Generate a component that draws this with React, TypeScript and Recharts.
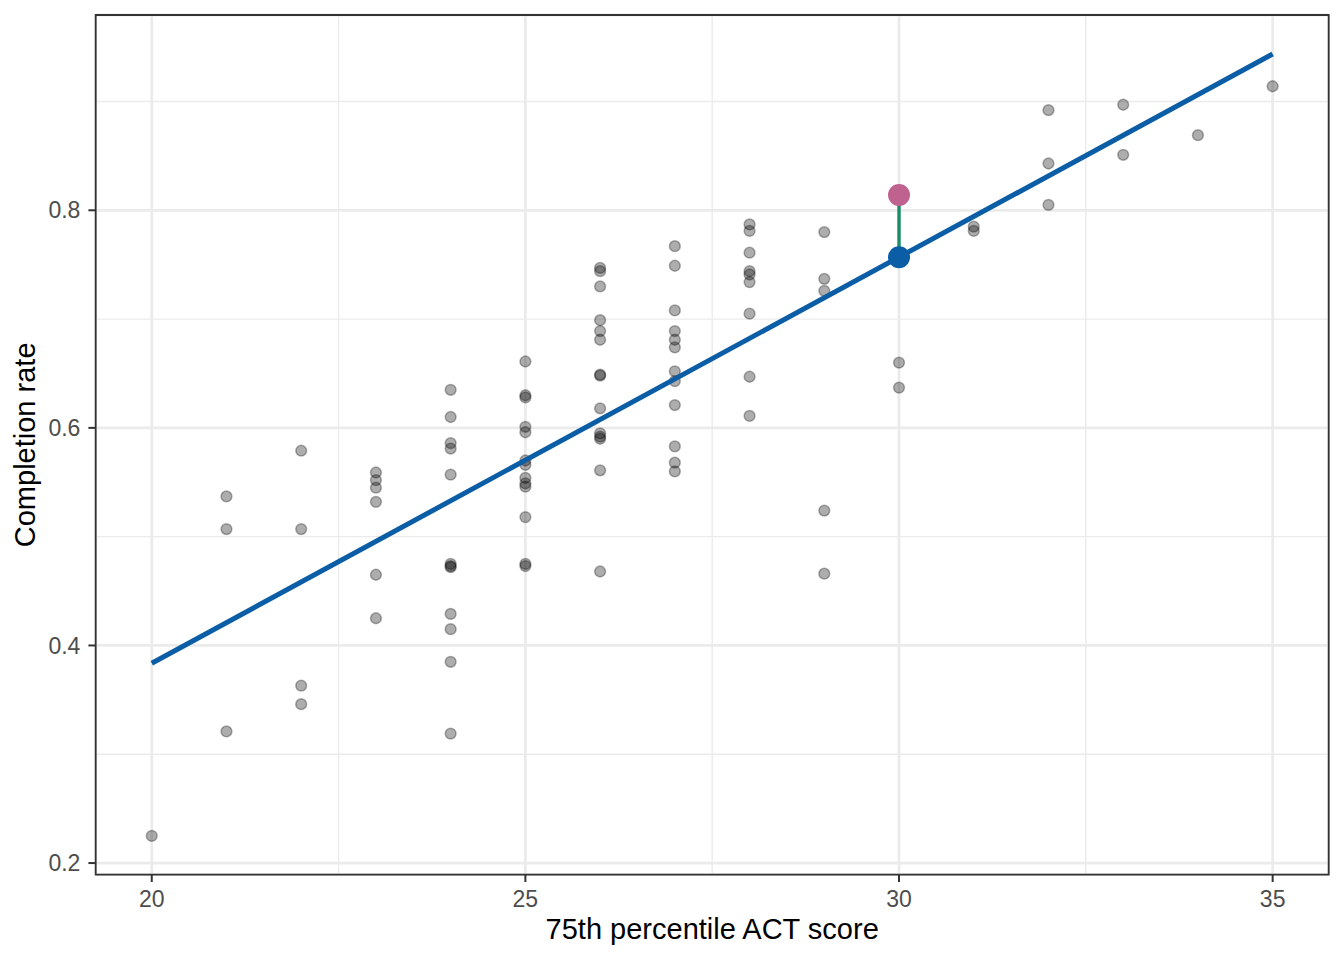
import { ComposedChart, Scatter, XAxis, YAxis, CartesianGrid, ReferenceArea } from 'recharts'

// one entry per college: 75th percentile ACT score and completion rate
const actScore = [
  20,
  21, 21, 21,
  22, 22, 22, 22,
  23, 23, 23, 23, 23, 23,
  24, 24, 24, 24, 24, 24, 24, 24, 24, 24, 24, 24,
  25, 25, 25, 25, 25, 25, 25, 25, 25, 25, 25, 25, 25,
  26, 26, 26, 26, 26, 26, 26, 26, 26, 26, 26, 26, 26, 26,
  27, 27, 27, 27, 27, 27, 27, 27, 27, 27, 27, 27,
  28, 28, 28, 28, 28, 28, 28, 28, 28,
  29, 29, 29, 29, 29,
  30, 30,
  31, 31,
  32, 32, 32,
  33, 33,
  34,
  35,
]

const completionRate = [
  0.225,
  0.537, 0.507, 0.321,
  0.579, 0.507, 0.363, 0.346,
  0.559, 0.552, 0.545, 0.532, 0.465, 0.425,
  0.635, 0.61, 0.586, 0.581, 0.557, 0.475, 0.473, 0.472, 0.429, 0.415, 0.385, 0.319,
  0.661, 0.63, 0.628, 0.601, 0.596, 0.57, 0.566, 0.554, 0.549, 0.546, 0.518, 0.475, 0.473,
  0.747, 0.744, 0.73, 0.699, 0.689, 0.681, 0.649, 0.648, 0.618, 0.595, 0.592, 0.59, 0.561, 0.468,
  0.767, 0.749, 0.708, 0.689, 0.681, 0.674, 0.652, 0.643, 0.621, 0.583, 0.568, 0.56,
  0.787, 0.781, 0.761, 0.744, 0.741, 0.734, 0.705, 0.647, 0.611,
  0.78, 0.737, 0.726, 0.524, 0.466,
  0.66, 0.637,
  0.785, 0.781,
  0.892, 0.843, 0.805,
  0.897, 0.851,
  0.869,
  0.914,
]

// fitted regression line end points
const fitScore = [20, 35]
const fitRate = [0.3837, 0.9436]

// highlighted college and its fitted value
const highlightScore = 30
const observedRate = 0.8141
const fittedRate = 0.7568

const xTicks = [20, 25, 30, 35]
const xMinorTicks = [22.5, 27.5, 32.5]
const yTicks = [0.2, 0.4, 0.6, 0.8]
const yMinorTicks = [0.3, 0.5, 0.7, 0.9]

const X_DOMAIN: [number, number] = [19.25, 35.75]
const Y_DOMAIN: [number, number] = [0.1893, 0.9795]

const BLUE = '#0B5EA5'
const PINK = '#C0628F'
const GREEN = '#1A8C66'
const FONT = '"Liberation Sans", Arial, Helvetica, sans-serif'

const points = actScore.map((x, i) => ({ x, y: completionRate[i] }))
const fitData = fitScore.map((x, i) => ({ x, y: fitRate[i] }))
const residualData = [
  { x: highlightScore, y: fittedRate },
  { x: highlightScore, y: observedRate },
]

const GrayDot = (p: any) => (
  <circle
    cx={p.cx}
    cy={p.cy}
    r={5.4}
    fill="#000"
    fillOpacity={0.32}
    stroke="#000"
    strokeOpacity={0.3}
    strokeWidth={1.5}
  />
)

const bigDot = (color: string) => (p: any) => <circle cx={p.cx} cy={p.cy} r={11} fill={color} />

const NoDot = () => <g />

export default function App() {
  return (
    <div style={{ position: 'absolute', left: 0, top: 0, width: 1344, height: 960, background: '#fff', fontFamily: FONT }}>
      <ComposedChart width={1344} height={960} margin={{ top: 15, right: 15.3, bottom: 0, left: 0 }}>
        <XAxis
          xAxisId="minor"
          dataKey="x"
          type="number"
          domain={X_DOMAIN}
          ticks={xMinorTicks}
          allowDataOverflow
          hide
        />
        <YAxis
          yAxisId="minor"
          dataKey="y"
          type="number"
          domain={Y_DOMAIN}
          ticks={yMinorTicks}
          allowDataOverflow
          hide
        />
        <CartesianGrid xAxisId="minor" yAxisId="minor" stroke="#EBEBEB" strokeWidth={1.4} />
        <CartesianGrid stroke="#EBEBEB" strokeWidth={2.8} />
        <XAxis
          dataKey="x"
          type="number"
          domain={X_DOMAIN}
          ticks={xTicks}
          allowDataOverflow
          height={85.3}
          axisLine={false}
          tickSize={7.3}
          tickMargin={8.4}
          tickLine={{ stroke: '#333', strokeWidth: 2 }}
          tick={{ fill: '#4D4D4D', fontSize: 23, fontFamily: FONT }}
          label={{
            value: '75th percentile ACT score',
            position: 'insideBottom',
            offset: 20.7,
            fill: '#000',
            fontSize: 29,
            fontFamily: FONT,
          }}
        />
        <YAxis
          dataKey="y"
          type="number"
          domain={Y_DOMAIN}
          ticks={yTicks}
          allowDataOverflow
          width={95.7}
          axisLine={false}
          tickSize={7.3}
          tickMargin={8}
          tickLine={{ stroke: '#333', strokeWidth: 2 }}
          tickFormatter={(v: number) => v.toFixed(1)}
          tick={{ fill: '#4D4D4D', fontSize: 23, fontFamily: FONT }}
          label={{
            value: 'Completion rate',
            angle: -90,
            position: 'insideLeft',
            offset: 24.5,
            fill: '#000',
            fontSize: 29,
            fontFamily: FONT,
            style: { textAnchor: 'middle' },
          }}
        />
        <Scatter data={points} dataKey="y" shape={GrayDot} isAnimationActive={false} />
        <Scatter
          data={fitData}
          dataKey="y"
          fill={BLUE}
          line={{ stroke: BLUE, strokeWidth: 5 }}
          shape={NoDot}
          isAnimationActive={false}
        />
        <Scatter
          data={residualData}
          dataKey="y"
          fill={GREEN}
          line={{ stroke: GREEN, strokeWidth: 3.4 }}
          shape={NoDot}
          isAnimationActive={false}
        />
        <Scatter data={[residualData[0]]} dataKey="y" shape={bigDot(BLUE)} isAnimationActive={false} />
        <Scatter data={[residualData[1]]} dataKey="y" shape={bigDot(PINK)} isAnimationActive={false} />
        <ReferenceArea
          x1={X_DOMAIN[0]}
          x2={X_DOMAIN[1]}
          y1={Y_DOMAIN[0]}
          y2={Y_DOMAIN[1]}
          fill="none"
          stroke="#333"
          strokeWidth={1.8}
        />
      </ComposedChart>
    </div>
  )
}
